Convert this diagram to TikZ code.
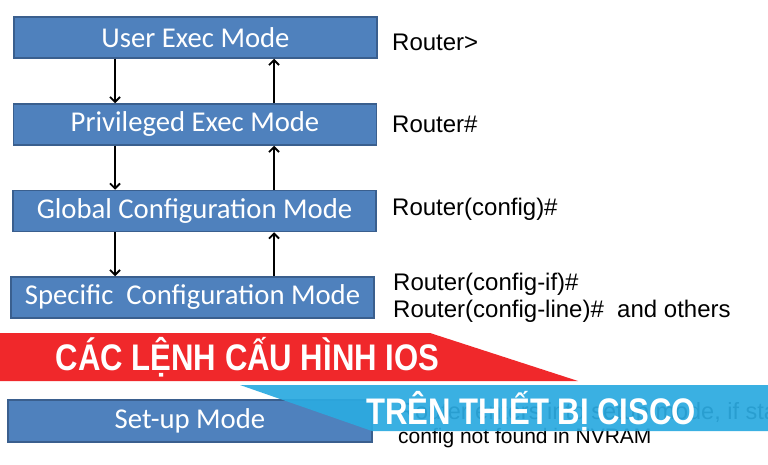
\documentclass[tikz,border=0pt]{standalone}
\usepackage{fontspec}
\setmainfont{Liberation Sans}
\newfontfamily\boxfont{Carlito}
\newfontfamily\bannerfont[FakeStretch=0.84]{Liberation Sans}
\usetikzlibrary{arrows.meta}
\tikzset{>={Straight Barb[length=5pt,width=10pt]}, line width=1.0pt}
\definecolor{modeblue}{HTML}{4F81BD}
\definecolor{modeedge}{HTML}{3A5F8E}
\definecolor{bannerred}{HTML}{F0282B}
\definecolor{bannerblue}{HTML}{2CAAE0}
\tikzset{
  modebox/.style={draw=modeedge,line width=1.5pt,fill=modeblue,text=white,
    minimum width=363pt,minimum height=41pt,inner sep=0pt,
    font=\boxfont\fontsize{28.7}{31}\selectfont},
  prompt/.style={anchor=west,inner sep=0pt,align=left,
    font=\fontsize{24}{27}\selectfont},
  banner/.style={text=white,inner sep=0pt,
    font=\bannerfont\bfseries\fontsize{37}{40}\selectfont}
}

\begin{document}
\begin{tikzpicture}[x=1pt,y=-1pt]
  \useasboundingbox (0,0) rectangle (768,465);
  \fill[white] (0,0) rectangle (768,465);

  % Modes
  \node[modebox] (user) at (195.5,37.5) {User Exec Mode};
  \node[modebox] (priv) at (195,124.5) {Privileged Exec Mode};
  \node[modebox] (global) at (194.5,211) {Global Configuration Mode};
  \node[modebox] (specific) at (192.5,297.5) {Specific\ \ Configuration Mode};
  \node[modebox,minimum width=364pt,minimum height=42pt] (setup) at (190,421) {Set-up Mode};

  % Up and down
  \coordinate (dn) at (115,0);
  \coordinate (up) at (274,0);
  \draw[->,line width=1.8pt] (user.south -| dn) -- (priv.north -| dn);
  \draw[->,line width=1.8pt] (priv.north -| up) -- (user.south -| up);
  \draw[->,line width=1.8pt] (priv.south -| dn) -- (global.north -| dn);
  \draw[->,line width=1.8pt] (global.north -| up) -- (priv.south -| up);
  \draw[->,line width=1.8pt] (global.south -| dn) -- (specific.north -| dn);
  \draw[->,line width=1.8pt] (specific.north -| up) -- (global.south -| up);

  % Prompts
  \node[prompt] (puser) at (392,42) {Router>};
  \node[prompt] (ppriv) at (392,124) {Router\#};
  \node[prompt] (pglobal) at (392,209) {Router(config)\#};
  \node[prompt] (pspecific) at (393,297.5) {Router(config-if)\#\\Router(config-line)\#\ \ and others};
  \node[prompt,font=\fontsize{23.5}{24}\selectfont] (psetup) at (398,425) {Router enters into setup mode, if startup\\\fontsize{21}{24}\selectfont config not found in NVRAM};

  % Banners
  \fill[bannerred] (0,333) -- (430,333) -- (578,381) -- (0,381) -- cycle;
  \node[banner] (ios) at (247.5,357) {CÁC LỆNH CẤU HÌNH IOS};
  \fill[bannerblue,opacity=0.93] (240,385) -- (768,385) -- (768,431) -- (372,431) -- cycle;
  \node[banner] (cisco) at (531,411) {TRÊN THIẾT BỊ CISCO};
\end{tikzpicture}
\end{document}
